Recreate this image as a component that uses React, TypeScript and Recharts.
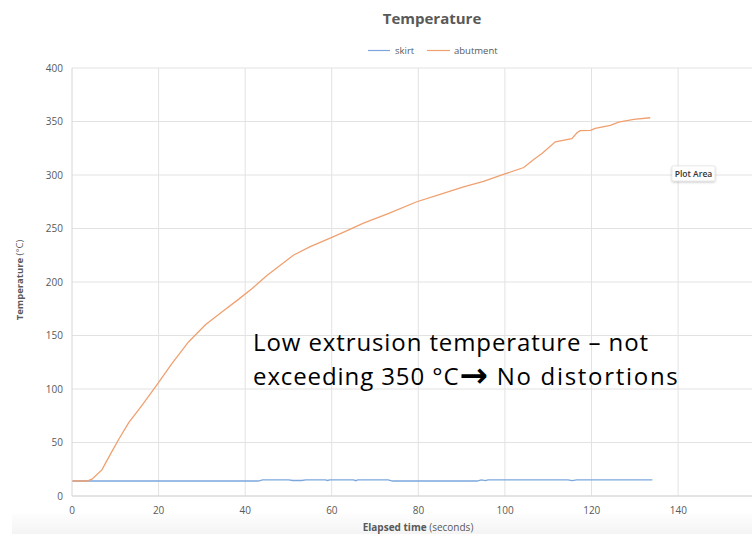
import React from 'react'
import { LineChart, Line, XAxis, YAxis, CartesianGrid, Label } from 'recharts'

// elapsed time (s) -> temperature (°C)
const abutmentTime = [0, 3.5, 4.6, 6.9, 9.2, 10.8, 13.1, 16.2, 19.8, 23.1, 26.9, 30.8, 34.6, 38.5, 41.6, 45, 51.1, 55, 59.6, 63, 67.3, 73, 79.6, 85, 90.4, 95, 99.6, 104.3, 106.6, 108.5, 111.6, 115.4, 116.6, 117.3, 119.7, 120.8, 124.3, 126.2, 129.7, 133.5]
const abutmentTemp = [14, 14, 15.7, 24.4, 41.5, 53, 68.5, 85, 105, 124, 144, 160, 172, 184, 194, 206, 225, 233, 241, 247, 255, 264, 275, 282, 289, 294, 300.5, 307, 314.5, 320, 331, 334, 339.5, 341.5, 341.7, 343.6, 346.4, 349.5, 352, 353.5]

const skirtTime = [0, 43, 44, 50, 51, 53, 54, 58.5, 59, 59.5, 65, 65.5, 66, 73, 74, 93.5, 94.5, 95.5, 96, 114.5, 115.5, 116.5, 134]
const skirtTemp = [14, 14, 15, 15, 14.5, 14.5, 15, 15, 14.5, 15, 15, 14.3, 15, 15, 14, 14, 15, 14.3, 15, 15, 14.3, 15, 15]

// 160 sits just past the right edge of the window, so only the domain reaches it
const xTicks = [0, 20, 40, 60, 80, 100, 120, 140]
const yTicks = [0, 50, 100, 150, 200, 250, 300, 350, 400]

const abutmentData = abutmentTime.map((t, i) => ({ t, temp: abutmentTemp[i] }))
const skirtData = skirtTime.map((t, i) => ({ t, temp: skirtTemp[i] }))

const BLUE = '#7BA7DD'
const ORANGE = '#F0A070'
const GREY = '#595959'
const FONT = '"Open Sans", "Noto Sans", sans-serif'

export default function App() {
  return (
    <div style={{ position: 'fixed', left: 0, top: 0, width: 752, height: 534, overflow: 'hidden', background: '#fff', fontFamily: FONT }}>
      {/* faint grey band along the bottom of the screenshot */}
      <div style={{ position: 'absolute', left: 12, top: 514, width: 740, height: 20, background: 'linear-gradient(#fdfdfd, #f4f4f4)' }} />
      <div style={{ position: 'absolute', left: 0, top: 0 }}>
        <LineChart width={780} height={534} data={abutmentData} margin={{ top: 68, right: 15, left: 0, bottom: 0 }}>
          <CartesianGrid stroke="#e2e2e2" verticalPoints={[158.6, 245.2, 331.7, 418.3, 504.9, 591.5, 678.1]} />
          <XAxis
            dataKey="t"
            type="number"
            domain={[0, 160]}
            ticks={xTicks}
            interval={0}
            height={38}
            stroke="#d6d6d6"
            tickLine={false}
            tickSize={0}
            tickMargin={11}
            tick={{ fill: GREY, fontSize: 10, fontFamily: FONT }}
          >
            <Label
              content={() => (
                <text x={418} y={531} textAnchor="middle" fontSize={10} fill={GREY} fontFamily={FONT}>
                  <tspan fontWeight={700}>Elapsed time</tspan>
                  <tspan> (seconds)</tspan>
                </text>
              )}
            />
          </XAxis>
          <YAxis
            type="number"
            domain={[0, 400]}
            ticks={yTicks}
            interval={0}
            width={72}
            stroke="#d6d6d6"
            tickLine={false}
            tickSize={0}
            tickMargin={9}
            tick={{ fill: GREY, fontSize: 10, fontFamily: FONT }}
          >
            <Label
              content={() => (
                <text x={23} y={280} transform="rotate(-90 23 280)" textAnchor="middle" fontSize={9.5} fill={GREY} fontFamily={FONT}>
                  <tspan fontWeight={700}>Temperature</tspan>
                  <tspan> (°C)</tspan>
                </text>
              )}
            />
          </YAxis>
          <Line data={skirtData} dataKey="temp" name="skirt" type="linear" stroke={BLUE} strokeWidth={1.3} dot={false} activeDot={false} isAnimationActive={false} />
          <Line data={abutmentData} dataKey="temp" name="abutment" type="linear" stroke={ORANGE} strokeWidth={1.3} dot={false} activeDot={false} isAnimationActive={false} />
        </LineChart>
      </div>
      <svg width={752} height={534} style={{ position: 'absolute', left: 0, top: 0, pointerEvents: 'none' }}>
        <defs>
          <filter id="tipShadow" x="-20%" y="-40%" width="140%" height="180%">
            <feDropShadow dx="0" dy="1" stdDeviation="1.2" floodColor="#000" floodOpacity="0.25" />
          </filter>
        </defs>
        <text x={432} y={24} textAnchor="middle" fontSize={15} fontWeight={700} fill={GREY} fontFamily={FONT}>Temperature</text>
        <line x1={368} x2={390} y1={50.5} y2={50.5} stroke={BLUE} strokeWidth={1.2} />
        <text x={395} y={54} fontSize={9.5} fill={GREY} fontFamily={FONT}>skirt</text>
        <line x1={427} x2={450} y1={50.5} y2={50.5} stroke={ORANGE} strokeWidth={1.2} />
        <text x={454} y={54} fontSize={9.5} fill={GREY} fontFamily={FONT}>abutment</text>
        <text x={253} y={351} fontSize={24} letterSpacing={0.9} fill="#000" fontFamily={FONT}>Low extrusion temperature – not</text>
        <text x={253} y={385} fontSize={24} letterSpacing={0.9} fill="#000" fontFamily={FONT}>
          <tspan>exceeding 350 °C</tspan>
          <tspan fontFamily='"DejaVu Sans"' fontWeight={700} fontSize={34} dy={2}>→</tspan>
          <tspan dy={-2} letterSpacing={1.7}> No distortions</tspan>
        </text>
        <rect x={672} y={166} width={43} height={15} rx={1} fill="#fff" stroke="#dcdcdc" strokeWidth={0.6} filter="url(#tipShadow)" />
        <text x={693.5} y={176.5} textAnchor="middle" fontSize={8.5} fontWeight={600} fill="#333" fontFamily={FONT}>Plot Area</text>
      </svg>
    </div>
  )
}
